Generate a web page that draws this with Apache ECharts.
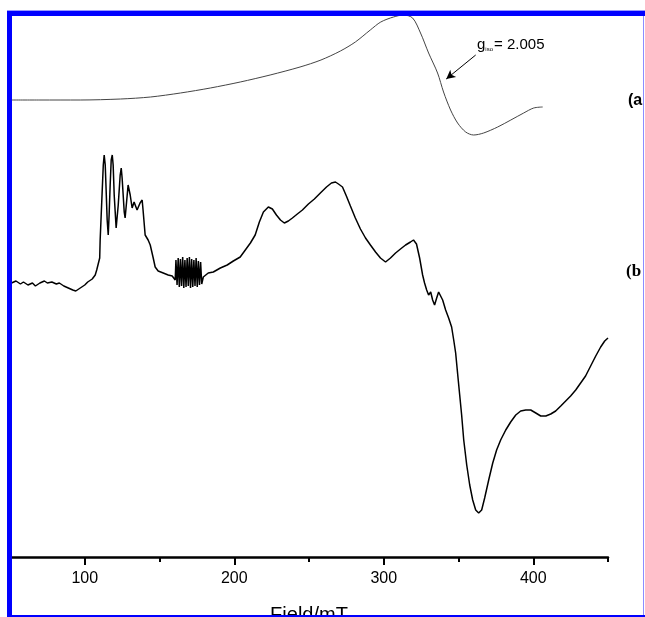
<!DOCTYPE html>
<html>
<head>
<meta charset="utf-8">
<script src="https://cdn.jsdelivr.net/npm/echarts@6/dist/echarts.min.js"></script>
<style>
html,body{margin:0;padding:0;background:#fff;}
#c{width:645px;height:617px;}
</style>
</head>
<body>
<div id="c"></div>
<script>
// Field (mT) and intensity (arbitrary units) for trace (a)
const fieldA = [51.3,70,97,124,144,164,184,204,224,244,258,271,281,291,298,306.5,313.2,319.3,324.6,330,336,340,344.7,349.4,354.8,360.1,366.8,376.2,385,393.6,400.3,406.3];
const intensityA = [457,457,457,458,460,464,469,475,482,490,497,506,515,527,535,540,542,539,524,504,484,465,447,434,425,422,424,430,437,444,449,450];

// Field (mT) and intensity (arbitrary units) for trace (b)
const fieldB = [51,54,57,59,62,65,67,70,73,75,78,81,83,86,89,92,94,97,100,102,105,107,108,110,110.3,111,111.7,112.4,113,113.7,114.3,115,115.7,116.3,117,117.7,118.4,119,119.7,121,122.4,123.7,124.4,125,126.4,127,128.4,129,130.4,131.7,133,133.7,135,135.7,137,138.4,139,140.4,142.4,143.8,145.8,147.1,149.1,152.5,155.8,158.5,160.5,
161.0,161.75,162.5,163.25,164.0,164.75,165.5,166.25,167.0,167.75,168.5,169.25,170.0,170.75,171.5,172.25,173.0,173.75,174.5,175.25,176.0,176.75,177.5,178.25,
179.3,182.6,186,190.7,195.3,199.4,204,207.4,210.8,214,216.8,219.5,222.8,225.5,228.2,230.9,233.5,236.2,238.9,242.2,245.6,249.6,253.6,257.6,261.7,265,267.7,269.7,272.4,275,277.7,281,284.4,287.8,291.1,294.5,297.8,301.2,304.5,307.9,311.2,314.6,317.9,319.9,321.9,324,326,327.3,328.7,330,331.4,332.7,334,335.4,336.7,338,339.4,341.4,343.4,345.4,346.8,348.1,349.5,350.8,352.1,353.5,355.5,357.5,359.5,361.5,363.5,365.5,367.5,370.2,372.9,375.5,378.2,381.6,384.9,388.3,391.6,395,398.3,401.7,405,408.4,411.7,415,418.4,421.7,425,428.4,431.7,435,438.4,441.8,445.1,447.8,450];
const intensityB = [274,276,273,275,272,274,271,274,276,274,275,273,274,271,269,267,266,269,272,275,278,282,287,299,317,342,367,392,402,392,367,337,322,342,372,397,402,392,362,329,352,382,389,379,345,339,362,372,362,349,355,357,347,345,354,357,347,322,317,312,299,290,286,284,282,281,277,
297,272,299,270,298,271,300,269,297,270,299,271,300,269,298,270,297,271,299,270,296,272,295,273,
280,284,285,289,292,296,300,307,314,322,335,345,350,348,342,337,334,336,339,343,347,353,358,364,370,374,375,373,370,361,351,339,328,319,312,305,299,295,299,304,308,312,315,317,313,299,282,274,267,262,265,257,252,259,265,266,257,247,239,230,217,204,182,162,142,117,92,72,57,47,44,47,59,77,94,107,117,127,135,142,146,147,147,144,141,141,143,146,151,156,161,167,174,181,191,201,210,216,219];

const tickLabels = [100,200,300,400];
const labelA = '(a';
const labelB = '(b';

const chart = echarts.init(document.getElementById('c'), null, {renderer:'canvas'});
const zip = (xs, ys) => xs.map((x,i)=>[x, ys[i]]);

chart.setOption({
  animation:false,
  backgroundColor:'#fff',
  grid:{left:10,right:37,top:14,bottom:60, outerBoundsMode:'none', containLabel:false},
  xAxis:[{
    type:'value', min:50, max:450, interval:50,
    axisLine:{show:true, lineStyle:{color:'#000', width:2.5}},
    axisTick:{show:true, length:5, lineStyle:{color:'#000', width:2}},
    axisLabel:{show:false},
    splitLine:{show:false},
    name:'Field/mT', nameLocation:'middle', nameGap:48,
    nameTextStyle:{fontFamily:'Liberation Sans, Arial', fontSize:20, color:'#000', verticalAlign:'top'}
  },{
    type:'value', min:50, max:450, interval:50, position:'bottom',
    axisLine:{show:false},
    axisTick:{show:true, length:8, customValues:tickLabels, lineStyle:{color:'#000', width:2}},
    axisLabel:{show:true, customValues:tickLabels, margin:14,
      fontFamily:'Liberation Sans, Arial', fontSize:16, color:'#000'},
    splitLine:{show:false}
  }],
  yAxis:{type:'value', min:0, max:543, show:false, splitLine:{show:false}},
  series:[{
    type:'line', name:'a', data:zip(fieldA,intensityA), showSymbol:false, smooth:0.3,
    lineStyle:{color:'#444', width:1}, z:3,
    markLine:{silent:true, symbol:['none','arrow'], symbolSize:[7,9],
      label:{show:false}, lineStyle:{color:'#000', width:1, type:'solid'},
      data:[[{coord:[361.5,502]},{coord:[341.8,478]}]]}
  },{
    type:'line', name:'b', data:zip(fieldB,intensityB), showSymbol:false,
    lineStyle:{color:'#000', width:1.5}, z:3
  }],
  graphic:[
    {type:'text', left:477, top:37, style:{
      text:'{g|g}{s|iso}{n|= 2.005}',
      rich:{
        g:{fontFamily:'Liberation Sans, Arial', fontSize:15, fill:'#000'},
        s:{fontFamily:'Liberation Sans, Arial', fontSize:6, fill:'#000', verticalAlign:'bottom', padding:[6,1,0,0]},
        n:{fontFamily:'Liberation Sans, Arial', fontSize:15, fill:'#000'}
      }}},
    {type:'text', left:628, top:93, style:{text:labelA, fontFamily:'Liberation Sans, Arial', fontWeight:'bold', fontSize:16, fill:'#000'}},
    {type:'text', left:626, top:263, style:{text:labelB, fontFamily:'Liberation Serif, Times New Roman', fontWeight:'bold', fontSize:17, fill:'#000'}},
    {type:'rect', shape:{x:7,y:10,width:638,height:1}, style:{fill:'#9a9aff'}, z:100},
    {type:'rect', shape:{x:7,y:11,width:638,height:5}, style:{fill:'#0000ff'}, z:100},
    {type:'rect', shape:{x:7,y:11,width:5,height:606}, style:{fill:'#0000ff'}, z:100},
    {type:'rect', shape:{x:643,y:16,width:1,height:601}, style:{fill:'#8c8cff'}, z:100},
    {type:'rect', shape:{x:7,y:615,width:638,height:2}, style:{fill:'#0000ff'}, z:100}
  ]
});
</script>
</body>
</html>
